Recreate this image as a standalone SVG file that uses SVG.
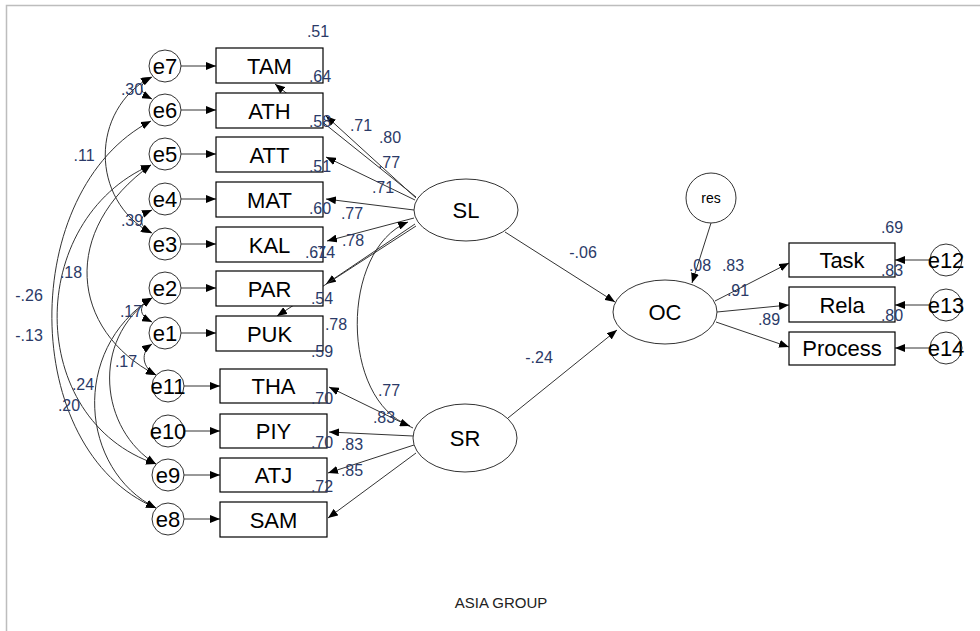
<svg xmlns="http://www.w3.org/2000/svg" width="980" height="631" viewBox="0 0 980 631">
<defs>
<marker id="ah" viewBox="0 0 10 8" refX="10" refY="4" markerWidth="10" markerHeight="8" markerUnits="userSpaceOnUse" orient="auto-start-reverse"><path d="M0,0 L10,4 L0,8 z" fill="#000"/></marker>
<style>
.bx{fill:#fff;stroke:#000;stroke-width:1.2}
.el{fill:#fff;stroke:#333;stroke-width:1}
.t{font-family:"Liberation Sans",Arial,sans-serif;font-size:22px;fill:#000;text-anchor:middle}
.lb{font-family:"Liberation Sans",Arial,sans-serif;font-size:16px;fill:#2b3a67;text-anchor:middle}
.ln{fill:none;stroke:#333;stroke-width:1;marker-end:url(#ah)}
.cv{fill:none;stroke:#333;stroke-width:1;marker-end:url(#ah);marker-start:url(#ah)}
</style>
</defs>
<rect x="0" y="0" width="980" height="631" fill="#fff"/>
<path d="M6.5,631 V5.5 H980" fill="none" stroke="#bdbdbd" stroke-width="1.5"/>

<g id="connectors">
<path class="ln" d="M181,66 H216"/>
<path class="ln" d="M181,110 H216"/>
<path class="ln" d="M181,154 H216"/>
<path class="ln" d="M181,199 H216"/>
<path class="ln" d="M181,244 H216"/>
<path class="ln" d="M181,288 H216"/>
<path class="ln" d="M181,333 H216"/>
<path class="ln" d="M184,386 H220"/>
<path class="ln" d="M184,431 H220"/>
<path class="ln" d="M184,475 H220"/>
<path class="ln" d="M184,519 H220"/>
<path class="cv" d="M152,77 C138,84 138,92 152,99"/>
<path class="cv" d="M151,77 C90,110 90,200 151,233"/>
<path class="cv" d="M152,210 C138,216 138,226 152,233"/>
<path class="cv" d="M151,121 C18,190 18,450 156,508"/>
<path class="cv" d="M151,165 C25,220 25,420 156,464"/>
<path class="cv" d="M151,165 C60,230 70,330 156,375"/>
<path class="cv" d="M152,298 C138,305 138,315 152,322"/>
<path class="cv" d="M152,344 C140,352 142,368 156,375"/>
<path class="cv" d="M152,298 C90,340 100,430 156,464"/>
<path class="cv" d="M152,298 C70,350 80,470 156,508"/>
<path class="ln" d="M416,197 L275,84"/>
<path class="ln" d="M416,198 L326,116"/>
<path class="ln" d="M415,200 L326,157"/>
<path class="ln" d="M414,210 L326,199"/>
<path class="ln" d="M414,218 L327,241"/>
<path class="ln" d="M415,224 L326,284"/>
<path class="ln" d="M416,226 L277,316"/>
<path class="ln" d="M413,428 L329,387"/>
<path class="ln" d="M413,436 L329,432"/>
<path class="ln" d="M414,445 L328,473"/>
<path class="ln" d="M416,453 L328,518"/>
<path class="cv" d="M408,222 C340,250 340,400 410,426"/>
<path class="ln" d="M505,232 L615,302"/>
<path class="ln" d="M508,418 L617,330"/>
<path class="ln" d="M711,223 L692,283"/>
<path class="ln" d="M715,301 L789,263"/>
<path class="ln" d="M717,312 L789,305"/>
<path class="ln" d="M716,322 L789,347"/>
<path class="ln" d="M930,260 H895"/>
<path class="ln" d="M930,305 H895"/>
<path class="ln" d="M930,348 H895"/>
</g>

<g id="TAM"><rect class="bx" x="216" y="48" width="107" height="35"/><text class="t" x="269.5" y="73.5">TAM</text></g>
<g id="ATH"><rect class="bx" x="216" y="93" width="107" height="35"/><text class="t" x="269.5" y="118.5">ATH</text></g>
<g id="ATT"><rect class="bx" x="216" y="137" width="107" height="35"/><text class="t" x="269.5" y="162.5">ATT</text></g>
<g id="MAT"><rect class="bx" x="216" y="182" width="107" height="35"/><text class="t" x="269.5" y="207.5">MAT</text></g>
<g id="KAL"><rect class="bx" x="216" y="227" width="107" height="35"/><text class="t" x="269.5" y="252.5">KAL</text></g>
<g id="PAR"><rect class="bx" x="216" y="271" width="107" height="35"/><text class="t" x="269.5" y="296.5">PAR</text></g>
<g id="PUK"><rect class="bx" x="216" y="316" width="107" height="35"/><text class="t" x="269.5" y="341.5">PUK</text></g>
<g id="THA"><rect class="bx" x="220" y="369" width="107" height="34"/><text class="t" x="273.5" y="394">THA</text></g>
<g id="PIY"><rect class="bx" x="220" y="414" width="107" height="34"/><text class="t" x="273.5" y="439">PIY</text></g>
<g id="ATJ"><rect class="bx" x="220" y="458" width="107" height="34"/><text class="t" x="273.5" y="483">ATJ</text></g>
<g id="SAM"><rect class="bx" x="220" y="502" width="107" height="35"/><text class="t" x="273.5" y="527.5">SAM</text></g>

<g id="e7"><circle class="el" cx="165" cy="66" r="16"/><text class="t" x="165" y="74">e7</text></g>
<g id="e6"><circle class="el" cx="165" cy="110" r="16"/><text class="t" x="165" y="118">e6</text></g>
<g id="e5"><circle class="el" cx="165" cy="154" r="16"/><text class="t" x="165" y="162">e5</text></g>
<g id="e4"><circle class="el" cx="165" cy="199" r="16"/><text class="t" x="165" y="207">e4</text></g>
<g id="e3"><circle class="el" cx="165" cy="244" r="16"/><text class="t" x="165" y="252">e3</text></g>
<g id="e2"><circle class="el" cx="165" cy="288" r="16"/><text class="t" x="165" y="296">e2</text></g>
<g id="e1"><circle class="el" cx="165" cy="333" r="16"/><text class="t" x="165" y="341">e1</text></g>
<g id="e11"><circle class="el" cx="168" cy="386" r="16"/><text class="t" x="168" y="394">e11</text></g>
<g id="e10"><circle class="el" cx="168" cy="431" r="16"/><text class="t" x="168" y="439">e10</text></g>
<g id="e9"><circle class="el" cx="168" cy="475" r="16"/><text class="t" x="168" y="483">e9</text></g>
<g id="e8"><circle class="el" cx="168" cy="519" r="16"/><text class="t" x="168" y="527">e8</text></g>

<g id="SL"><ellipse class="el" cx="466" cy="210" rx="52" ry="31"/><text class="t" x="466" y="218">SL</text></g>
<g id="SR"><ellipse class="el" cx="465" cy="438" rx="52" ry="34"/><text class="t" x="465" y="446">SR</text></g>
<g id="OC"><ellipse class="el" cx="665" cy="312" rx="52" ry="32"/><text class="t" x="665" y="320">OC</text></g>
<g id="res"><circle class="el" cx="711" cy="198" r="25"/><text class="t" x="711" y="203" style="font-size:14px">res</text></g>

<g id="Task"><rect class="bx" x="789" y="243" width="106" height="34"/><text class="t" x="842" y="268">Task</text></g>
<g id="Rela"><rect class="bx" x="789" y="287" width="106" height="35"/><text class="t" x="842" y="312.5">Rela</text></g>
<g id="Process"><rect class="bx" x="789" y="332" width="106" height="33"/><text class="t" x="842" y="356">Process</text></g>
<g id="e12"><circle class="el" cx="946" cy="260" r="16"/><text class="t" x="946" y="268">e12</text></g>
<g id="e13"><circle class="el" cx="946" cy="305" r="16"/><text class="t" x="946" y="313">e13</text></g>
<g id="e14"><circle class="el" cx="946" cy="348" r="16"/><text class="t" x="946" y="356">e14</text></g>

<g id="labels">
<text class="lb" x="318" y="37">.51</text>
<text class="lb" x="320" y="82">.64</text>
<text class="lb" x="320" y="127">.58</text>
<text class="lb" x="320" y="172">.51</text>
<text class="lb" x="320" y="214">.60</text>
<text class="lb" x="316" y="258">.61</text>
<text class="lb" x="324" y="258">.74</text>
<text class="lb" x="322" y="304">.54</text>
<text class="lb" x="336" y="330">.78</text>
<text class="lb" x="322" y="357">.59</text>
<text class="lb" x="361" y="131">.71</text>
<text class="lb" x="390" y="143">.80</text>
<text class="lb" x="389" y="168">.77</text>
<text class="lb" x="383" y="193">.71</text>
<text class="lb" x="352" y="219">.77</text>
<text class="lb" x="353" y="246">.78</text>
<text class="lb" x="389" y="396">.77</text>
<text class="lb" x="384" y="423">.83</text>
<text class="lb" x="322" y="404">.70</text>
<text class="lb" x="322" y="448">.70</text>
<text class="lb" x="352" y="450">.83</text>
<text class="lb" x="352" y="476">.85</text>
<text class="lb" x="322" y="492">.72</text>
<text class="lb" x="132" y="95">.30</text>
<text class="lb" x="84" y="161">.11</text>
<text class="lb" x="132" y="226">.39</text>
<text class="lb" x="71" y="278">.18</text>
<text class="lb" x="29" y="301">-.26</text>
<text class="lb" x="29" y="341">-.13</text>
<text class="lb" x="131" y="317">.17</text>
<text class="lb" x="126" y="367">.17</text>
<text class="lb" x="83" y="390">.24</text>
<text class="lb" x="69" y="411">.20</text>
<text class="lb" x="583" y="258">-.06</text>
<text class="lb" x="539" y="363">-.24</text>
<text class="lb" x="700" y="271">.08</text>
<text class="lb" x="733" y="271">.83</text>
<text class="lb" x="738" y="296">.91</text>
<text class="lb" x="769" y="325">.89</text>
<text class="lb" x="892" y="233">.69</text>
<text class="lb" x="892" y="276">.83</text>
<text class="lb" x="892" y="321">.80</text>
</g>
<text x="501" y="608" style="font-family:'Liberation Sans',Arial,sans-serif;font-size:15px;fill:#222;text-anchor:middle">ASIA GROUP</text>
</svg>
